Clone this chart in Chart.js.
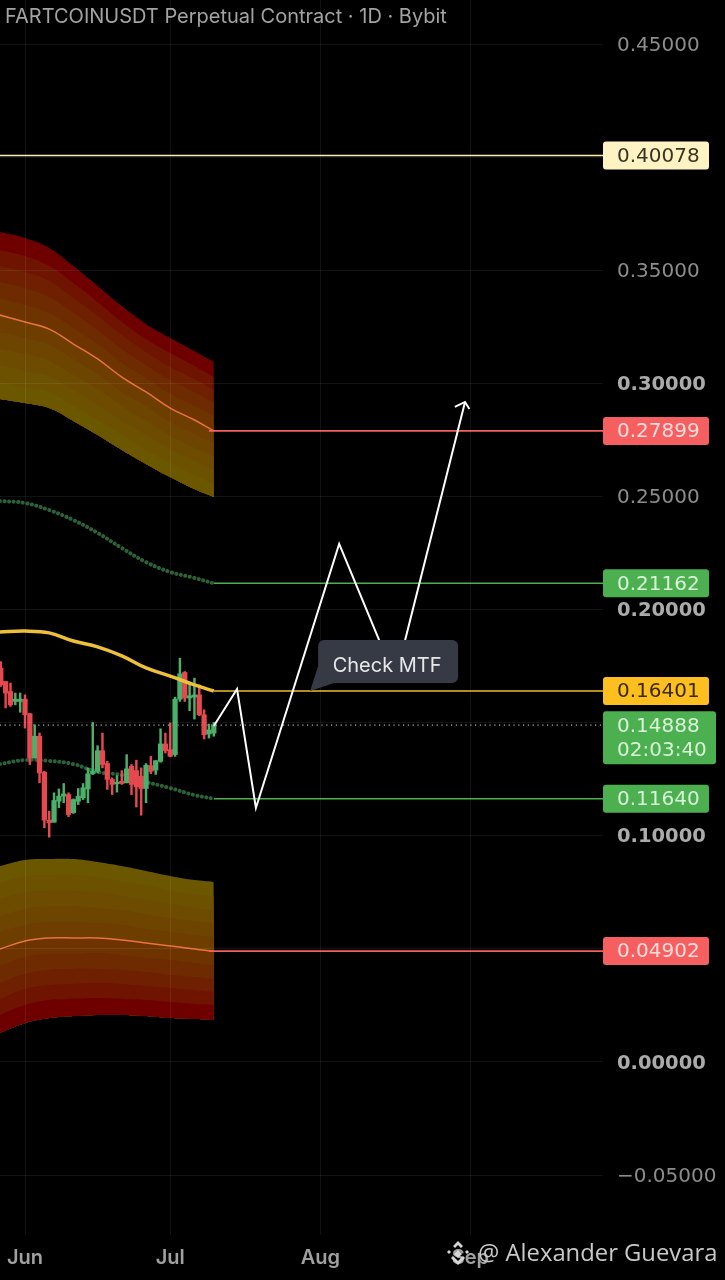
<!DOCTYPE html>
<html>
<head>
<meta charset="utf-8">
<title>FARTCOINUSDT</title>
<script src="https://cdn.jsdelivr.net/npm/chart.js@4"></script>
<style>
  html, body { margin: 0; padding: 0; background: #000; }
  #wrap { position: relative; width: 725px; height: 1280px; overflow: hidden; }
  #title { position: absolute; left: 5px; top: 4px; color: #a3a3a3; font: 20px Inter, sans-serif; white-space: nowrap; }
  #mark { position: absolute; left: 478px; top: 1236px; color: #c9c9c9; font: 23.8px "Open Sans", sans-serif; white-space: nowrap; }
  #logo { position: absolute; left: 444px; top: 1240px; }
</style>
</head>
<body>
<div id="wrap">
  <canvas id="chart" width="725" height="1280"></canvas>
  <div id="title">FARTCOINUSDT Perpetual Contract · 1D · Bybit</div>
  <svg id="logo" width="28" height="28" viewBox="0 0 28 28" fill="#d6d6d6">
    <path d="M14 1l5 5-2 2-3-3-3 3-2-2zM5 10l2 2-2 2-2-2zM23 10l2 2-2 2-2-2zM14 10l4 4-4 4-4-4zM9 16l5 5 5-5 2 2-7 7-7-7z"/>
  </svg>
  <div id="mark">@ Alexander Guevara</div>
</div>
<script>
// days counted from 1 Jun
const xTickDays = [0, 30, 61, 92];
const xTickLabels = ['Jun', 'Jul', 'Aug', 'Sep'];
const yTickValues = [-0.05, 0, 0.05, 0.1, 0.15, 0.2, 0.25, 0.3, 0.35, 0.4, 0.45];
const yTickLabels = ['\u22120.05000', '0.00000', '0.05000', '0.10000', '', '0.20000', '0.25000', '0.30000', '0.35000', '', '0.45000'];
const yTickBold = [false, true, false, true, false, true, false, true, false, false, false];

// candles
const candleDays = [-5, -4, -3, -2, -1, 0, 1, 2, 3, 4, 5, 6, 7, 8, 9, 10, 11, 12, 13, 14, 15, 16, 17, 18, 19, 20, 21, 22, 23, 24, 25, 26, 27, 28, 29, 30, 31, 32, 33, 34, 35, 36, 37, 38, 39];
const opens = [.1741, .1682, .1638, .1594, .1594, .1604, .1540, .1344, .1440, .1281, .1069, .1060, .1153, .1175, .1182, .1102, .1153, .1168, .1207, .1274, .1285, .1376, .1319, .1249, .1230, .1241, .1234, .1307, .1288, .1263, .1209, .1310, .1290, .1329, .1406, .1381, .1359, .1604, .1722, .1609, .1613, .1623, .1535, .1450, .1454];
const highs = [.1770, .1682, .1675, .1631, .1631, .1623, .1540, .1491, .1454, .1285, .1109, .1190, .1207, .1231, .1190, .1163, .1209, .1231, .1300, .1501, .1398, .1454, .1329, .1256, .1266, .1288, .1359, .1315, .1334, .1300, .1319, .1351, .1332, .1473, .1454, .1499, .1613, .1785, .1726, .1675, .1697, .1667, .1557, .1494, .1501];
const lows = [.1660, .1565, .1572, .1579, .1546, .1476, .1315, .1344, .1234, .1035, .0994, .1060, .1124, .1146, .1084, .1099, .1138, .1160, .1146, .1271, .1278, .1300, .1205, .1182, .1193, .1227, .1234, .1182, .1127, .1091, .1146, .1275, .1271, .1325, .1366, .1349, .1351, .1594, .1594, .1553, .1516, .1531, .1428, .1432, .1440];
const closes = [.1667, .1631, .1579, .1604, .1604, .1535, .1344, .1440, .1278, .1069, .1058, .1156, .1175, .1185, .1094, .1160, .1175, .1212, .1274, .1285, .1376, .1315, .1249, .1227, .1237, .1231, .1296, .1227, .1216, .1209, .1312, .1285, .1332, .1406, .1376, .1351, .1604, .1716, .1609, .1619, .1623, .1535, .1447, .1468, .14888];

// upper and lower bands, edge by edge, top to bottom
const bandDays = [-5.2, 0, 5, 10, 15, 20, 25, 30, 35, 39];
const upperEdge0 = [.3669, .3643, .3599, .3519, .3431, .3342, .3263, .3201, .3143, .3095];
const upperEdge1 = [.3590, .3563, .3519, .3444, .3360, .3271, .3196, .3134, .3077, .3028];
const upperEdge2 = [.3519, .3492, .3453, .3377, .3298, .3214, .3139, .3072, .3019, .2971];
const upperEdge3 = [.3448, .3422, .3382, .3311, .3236, .3152, .3081, .3015, .2962, .2913];
const upperEdge4 = [.3377, .3347, .3311, .3245, .3174, .3090, .3024, .2953, .2900, .2856];
const upperMid = [.3302, .3271, .3240, .3174, .3108, .3028, .2962, .2891, .2838, .2790];
const upperEdge6 = [.3227, .3201, .3170, .3108, .3041, .2962, .2900, .2829, .2776, .2737];
const upperEdge7 = [.3152, .3130, .3099, .3037, .2975, .2900, .2834, .2768, .2715, .2675];
const upperEdge8 = [.3081, .3055, .3033, .2971, .2905, .2834, .2772, .2710, .2657, .2617];
const upperEdge9 = [.3006, .2984, .2962, .2900, .2838, .2772, .2706, .2648, .2595, .2555];
const upperEdge10 = [.2931, .2913, .2891, .2834, .2772, .2706, .2644, .2586, .2533, .2498];

const lowerEdge0 = [.0866, .0893, .0897, .0897, .0884, .0866, .0844, .0822, .0804, .0796];
const lowerEdge1 = [.0791, .0822, .0827, .0827, .0818, .0800, .0782, .0760, .0743, .0734];
const lowerEdge2 = [.0720, .0751, .0756, .0756, .0751, .0734, .0716, .0698, .0681, .0672];
const lowerEdge3 = [.0645, .0676, .0689, .0689, .0681, .0672, .0654, .0636, .0623, .0614];
const lowerEdge4 = [.0575, .0606, .0619, .0619, .0614, .0606, .0588, .0575, .0561, .0552];
const lowerMid = [.0499, .0535, .0548, .0548, .0548, .0539, .0526, .0513, .0499, .0490];
const lowerEdge6 = [.0424, .0464, .0477, .0477, .0482, .0473, .0460, .0451, .0438, .0429];
const lowerEdge7 = [.0349, .0389, .0407, .0411, .0411, .0407, .0398, .0385, .0376, .0367];
const lowerEdge8 = [.0279, .0323, .0340, .0345, .0349, .0345, .0336, .0327, .0318, .0309];
const lowerEdge9 = [.0208, .0252, .0274, .0279, .0283, .0279, .0274, .0265, .0256, .0252];
const lowerEdge10 = [.0128, .0172, .0194, .0203, .0208, .0208, .0203, .0194, .0190, .0186];

// yellow average and the two dotted green lines
const yellowLine = [.1901, .1905, .1897, .1861, .1835, .1795, .1742, .1706, .1667, .1640];
const greenUpper = [.2480, .2471, .2440, .2396, .2339, .2272, .2210, .2166, .2140, .2116];
const greenLower = [.1317, .1335, .1331, .1317, .1282, .1269, .1238, .1211, .1180, .1164];

// drawn path and its arrow head
const pathDays = [39, 43.8, 47.7, 64.9, 76.5, 90.9];
const pathPrices = [.1485, .1649, .1123, .2290, .1693, .2918];
const arrowDays = [88.8, 90.9, 91.8];
const arrowPrices = [.2896, .2918, .2887];

// horizontal levels
const levelPrices = [.40078, .27899, .21162, .16401, .11640, .04902];
const levelStarts = [-5.2, 38, 39, 39, 39, 38];
const levelText = ['0.40078', '0.27899', '0.21162', '0.16401', '0.11640', '0.04902'];
const lastPrice = 0.14888;
const lastTimer = '02:03:40';

const upperEdges = [upperEdge0, upperEdge1, upperEdge2, upperEdge3, upperEdge4, upperMid, upperEdge6, upperEdge7, upperEdge8, upperEdge9, upperEdge10];
const lowerEdges = [lowerEdge0, lowerEdge1, lowerEdge2, lowerEdge3, lowerEdge4, lowerMid, lowerEdge6, lowerEdge7, lowerEdge8, lowerEdge9, lowerEdge10];
const upperFills = ['#6e0000', '#6e1400', '#6e2000', '#6e2a00', '#6e3400', '#6e3d00', '#6d4500', '#6d4c00', '#6c5200', '#6b5700'];
const lowerFills = ['#6b5700', '#6c5200', '#6d4c00', '#6d4500', '#6e3d00', '#6e3400', '#6e2a00', '#6e2000', '#6e1400', '#6e0000'];
const levelColors = ['#ffeeb0', '#f4605e', '#4caf50', '#f2bb2e', '#4caf50', '#f4605e'];
const boxColors = ['#fff3c4', '#f55f5f', '#4caf50', '#fdbf1f', '#4caf50', '#f55f5f'];
const boxTextColors = ['#3a3520', '#ffdcdc', '#d8f5d8', '#3a2a00', '#d8f5d8', '#ffdcdc'];

const green = '#4caf6a';
const red = '#e5484f';
const candleColors = opens.map((o, i) => closes[i] >= o ? green : red);

function pts(xs, ys) {
  return xs.map((x, i) => ({ x: x, y: ys[i] }));
}

function lineSet(xs, ys, color, width, order, extra) {
  return Object.assign({
    type: 'line',
    data: pts(xs, ys),
    borderColor: color,
    borderWidth: width,
    pointRadius: 0,
    tension: 0,
    fill: false,
    order: order
  }, extra || {});
}

const datasets = [];

// bands: every layer fills down to the last edge, painted top layer first, so no seams show
[[upperEdges, upperFills], [lowerEdges, lowerFills]].forEach(function (band) {
  const first = datasets.length;
  band[0].forEach(function (edge, i) {
    datasets.push(lineSet(bandDays, edge, 'transparent', 0, 40 - i, {
      tension: 0.4,
      fill: i < band[1].length ? first + band[1].length : false,
      backgroundColor: band[1][i]
    }));
  });
});
datasets.push(lineSet(bandDays, upperMid, '#e8743c', 1.5, 9, { tension: 0.4 }));
datasets.push(lineSet(bandDays, lowerMid, '#e8743c', 1.5, 9, { tension: 0.4 }));

// moving averages
datasets.push(lineSet(bandDays, greenUpper, '#2b6238', 4, 8, { tension: 0.4, borderDash: [0.1, 4.5], borderCapStyle: 'round' }));
datasets.push(lineSet(bandDays, greenLower, '#2b6238', 4, 8, { tension: 0.4, borderDash: [0.1, 4.5], borderCapStyle: 'round' }));
datasets.push(lineSet(bandDays, yellowLine, '#eec03a', 3.5, 4, { tension: 0.4 }));

// candles
datasets.push({
  type: 'bar',
  grouped: false,
  data: pts(candleDays, lows.map((l, i) => [l, highs[i]])),
  backgroundColor: candleColors,
  barThickness: 1.8,
  order: 6
});
datasets.push({
  type: 'bar',
  grouped: false,
  data: pts(candleDays, opens.map((o, i) => [o, closes[i]])),
  backgroundColor: candleColors,
  barThickness: 4.6,
  order: 5
});

// levels
levelPrices.forEach(function (p, i) {
  datasets.push(lineSet([levelStarts[i], 120], [p, p], levelColors[i], 1.6, 3));
});
datasets.push(lineSet([-5.2, 120], [lastPrice, lastPrice], '#9fb8a4', 1.2, 7, { borderDash: [1.2, 3.6] }));

// white projection
datasets.push(lineSet(pathDays, pathPrices, '#ffffff', 2, 1));
datasets.push(lineSet(arrowDays, arrowPrices, '#ffffff', 2, 1));

function roundBox(ctx, x, y, w, h, r, color) {
  ctx.fillStyle = color;
  ctx.beginPath();
  ctx.roundRect(x, y, w, h, r);
  ctx.fill();
}

function noPadding(scale) {
  scale.paddingTop = 0;
  scale.paddingBottom = 0;
  scale.paddingLeft = 0;
  scale.paddingRight = 0;
}

// price boxes on the axis and the note, on top of everything
const overlay = {
  id: 'overlay',
  afterDraw: function (chart) {
    const ctx = chart.ctx;
    const sx = chart.scales.x;
    const sy = chart.scales.y;
    ctx.save();
    ctx.font = '20px "DejaVu Sans", sans-serif';
    ctx.textAlign = 'left';
    ctx.textBaseline = 'middle';
    levelPrices.forEach(function (p, i) {
      const py = sy.getPixelForValue(p);
      roundBox(ctx, 603, py - 14, 106, 28, 3, boxColors[i]);
      ctx.fillStyle = boxTextColors[i];
      ctx.fillText(levelText[i], 617, py + 1);
    });
    const ly = sy.getPixelForValue(lastPrice);
    roundBox(ctx, 603, ly - 14, 113, 53, 3, '#4caf50');
    ctx.fillStyle = '#d8f5d8';
    ctx.fillText(lastPrice.toFixed(5), 617, ly + 2);
    ctx.fillText(lastTimer, 617, ly + 26);

    // Check MTF note, anchored to the yellow level
    const ax = sx.getPixelForValue(58.9);
    const ay = sy.getPixelForValue(levelPrices[3]);
    ctx.fillStyle = '#363a45';
    ctx.beginPath();
    ctx.moveTo(ax + 8, ay - 25);
    ctx.lineTo(ax, ay);
    ctx.lineTo(ax + 24, ay - 8);
    ctx.closePath();
    ctx.fill();
    roundBox(ctx, ax + 8, ay - 51, 140, 43, 6, '#363a45');
    ctx.fillStyle = '#e8e8ea';
    ctx.textAlign = 'center';
    ctx.font = '20px Inter, sans-serif';
    ctx.fillText('Check MTF', ax + 77, ay - 25);
    ctx.restore();
  }
};

const myChart = new Chart(document.getElementById('chart'), {
  type: 'bar',
  data: { datasets: datasets },
  plugins: [overlay],
  options: {
    responsive: false,
    animation: false,
    layout: { padding: 0 },
    plugins: { legend: { display: false }, tooltip: { enabled: false }, title: { display: false } },
    scales: {
      x: {
        type: 'linear',
        offset: false,
        min: -5.165,
        max: 119.4,
        afterBuildTicks: function (scale) { scale.ticks = xTickDays.map(v => ({ value: v })); },
        afterFit: function (scale) { scale.height = 45; noPadding(scale); },
        grid: { color: 'rgba(255,255,255,.07)', drawTicks: false, offset: false, z: 1 },
        border: { display: false },
        ticks: {
          autoSkip: false,
          maxRotation: 0,
          padding: 11,
          color: '#a0a0a0',
          font: { family: 'Inter, sans-serif', size: 20, weight: '600' },
          callback: function (v, i) { return xTickLabels[i]; }
        }
      },
      y: {
        position: 'right',
        min: -0.0765,
        max: 0.4695,
        afterBuildTicks: function (scale) { scale.ticks = yTickValues.map(v => ({ value: v })); },
        afterFit: function (scale) { scale.width = 122; noPadding(scale); },
        grid: { color: 'rgba(255,255,255,.07)', drawTicks: false, z: 1 },
        border: { display: false },
        ticks: {
          autoSkip: false,
          align: 'center',
          crossAlign: 'near',
          padding: 14,
          labelOffset: 1.5,
          color: function (c) { return yTickBold[c.index] ? '#ababab' : '#8c8c8c'; },
          font: function (c) { return { family: '"DejaVu Sans", sans-serif', size: yTickBold[c.index] ? 19.5 : 20, weight: yTickBold[c.index] ? '700' : '400' }; },
          callback: function (v, i) { return yTickLabels[i]; }
        }
      }
    }
  }
});
</script>
</body>
</html>
